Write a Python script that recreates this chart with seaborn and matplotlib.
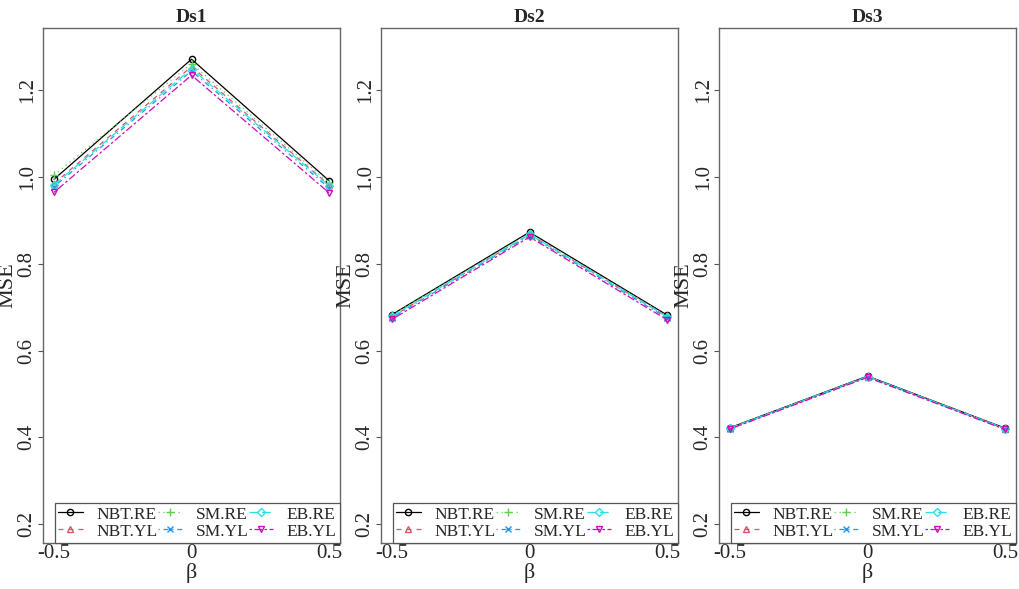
import matplotlib
matplotlib.use("Agg")
import matplotlib.pyplot as plt
import seaborn as sns
import pandas as pd

sns.set_theme(style="white")
plt.rcParams['font.family'] = ['Liberation Serif', 'DejaVu Serif']

beta = [-0.5, 0.0, 0.5]
beta_labels = ["-0.5", "0", "0.5"]
panels = ["Ds1", "Ds2", "Ds3"]
series = ["NBT.RE", "NBT.YL", "SM.RE", "SM.YL", "EB.RE", "EB.YL"]

ds1 = {
    "NBT.RE": [0.995, 1.272, 0.992],
    "NBT.YL": [0.985, 1.255, 0.982],
    "SM.RE":  [1.005, 1.262, 0.987],
    "SM.YL":  [0.978, 1.245, 0.975],
    "EB.RE":  [0.982, 1.250, 0.980],
    "EB.YL":  [0.965, 1.235, 0.964],
}
ds2 = {
    "NBT.RE": [0.683, 0.873, 0.682],
    "NBT.YL": [0.678, 0.868, 0.678],
    "SM.RE":  [0.682, 0.870, 0.680],
    "SM.YL":  [0.676, 0.865, 0.675],
    "EB.RE":  [0.679, 0.868, 0.678],
    "EB.YL":  [0.672, 0.862, 0.671],
}
ds3 = {
    "NBT.RE": [0.422, 0.541, 0.421],
    "NBT.YL": [0.421, 0.540, 0.420],
    "SM.RE":  [0.422, 0.540, 0.421],
    "SM.YL":  [0.420, 0.539, 0.419],
    "EB.RE":  [0.421, 0.540, 0.420],
    "EB.YL":  [0.419, 0.538, 0.418],
}
data = [ds1, ds2, ds3]
yticks = [0.2, 0.4, 0.6, 0.8, 1.0, 1.2]
ytick_labels = ["0.2", "0.4", "0.6", "0.8", "1.0", "1.2"]

colors = {"NBT.RE": "#000000", "NBT.YL": "#DF536B", "SM.RE": "#61D04F",
          "SM.YL": "#2297E6", "EB.RE": "#28E2E5", "EB.YL": "#CD0BBC"}
markers = {"NBT.RE": "o", "NBT.YL": "^", "SM.RE": "+", "SM.YL": "x",
           "EB.RE": "D", "EB.YL": "v"}
dashes = {"NBT.RE": "-", "NBT.YL": (0, (4, 4)), "SM.RE": (0, (1, 3)),
          "SM.YL": (0, (1, 3, 4, 3)), "EB.RE": (0, (7, 3)), "EB.YL": (0, (2, 2, 6, 2))}
msize = {"o": 4.5, "^": 5, "+": 6, "x": 4.5, "D": 4, "v": 5}

fig = plt.figure(figsize=(10.2, 5.89), dpi=100)
W, H = 1020, 589
lefts = [43, 381, 719]
pw = 297
top, bottom = 28, 543

for i, (name, d) in enumerate(zip(panels, data)):
    ax = fig.add_axes([lefts[i] / W, 1 - bottom / H, pw / W, (bottom - top) / H])
    rows = []
    for s in series:
        for b, v in zip(beta, d[s]):
            rows.append({"beta": b, "MSE": v, "series": s})
    df = pd.DataFrame(rows)
    for s in series:
        sub = df[df["series"] == s]
        m = markers[s]
        sns.lineplot(data=sub, x="beta", y="MSE", ax=ax, color=colors[s],
                     marker=m, markersize=msize[m], markerfacecolor="none",
                     markeredgecolor=colors[s], markeredgewidth=1.0,
                     linestyle=dashes[s], linewidth=0.9, label=s, legend=False)
    ax.set_xlim(-0.54, 0.54)
    ax.set_ylim(0.156, 1.344)
    ax.set_xticks(beta)
    ax.set_xticklabels(beta_labels, fontsize=15)
    ax.set_yticks(yticks)
    ax.set_yticklabels(ytick_labels, fontsize=15, rotation=90, va="center")
    ax.tick_params(axis="y", direction="out", length=3.5, width=0.8,
                   color="#555555", pad=1, left=True)
    ax.tick_params(axis="x", length=0, pad=1)
    for sp in ax.spines.values():
        sp.set_color("#666666")
        sp.set_linewidth(1.0)
    ax.set_title(name, fontsize=14, fontweight="bold", pad=4)
    ax.set_xlabel("β", fontsize=16, labelpad=0)
    ax.set_ylabel("MSE", fontsize=16, labelpad=0)
    handles, labels = ax.get_legend_handles_labels()
    leg = ax.legend(handles, labels, ncol=3, loc="lower right",
                    bbox_to_anchor=(1.0, 0.0),
                    fontsize=12.5, frameon=True, fancybox=False, framealpha=1,
                    edgecolor="#555555", handlelength=1.4, handletextpad=0.8,
                    columnspacing=0.0, borderpad=0.2, labelspacing=0.05,
                    borderaxespad=0.0)
    leg.get_frame().set_linewidth(0.9)

fig.savefig("out.png", dpi=100)
